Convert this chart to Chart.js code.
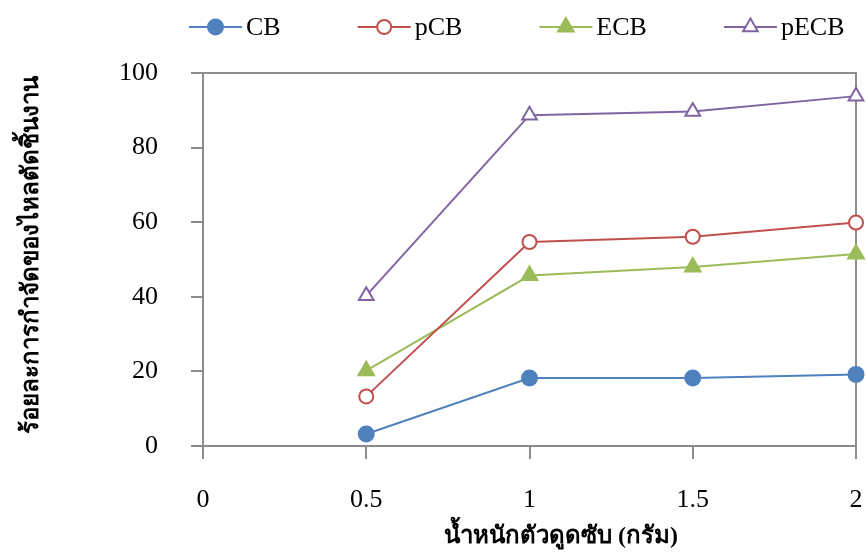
<!DOCTYPE html>
<html><head><meta charset="utf-8">
<script src="https://cdn.jsdelivr.net/npm/chart.js@4.4.1/dist/chart.umd.min.js"></script>
<style>html,body{margin:0;padding:0;background:#fff}#wrap{width:867px;height:556px}</style>
</head><body><div id="wrap"><canvas id="c" width="867" height="556"></canvas></div>
<script>
const xValues = [0.5, 1, 1.5, 2];
const seriesNames = ["CB", "pCB", "ECB", "pECB"];
const cbValues = [3.2, 18.2, 18.2, 19.2];
const pcbValues = [13.3, 54.7, 56.1, 59.9];
const ecbValues = [20.2, 45.7, 48.0, 51.5];
const pecbValues = [40.3, 88.7, 89.7, 93.8];
const xTitle = "น้ำหนักตัวดูดซับ (กรัม)";
const yTitle = "ร้อยละการกำจัดของไหลตัดชิ้นงาน";

const SERIF = "'Liberation Serif','Times New Roman',serif";
const AXIS = "#8c8c8c";
const styles = [
  {color:"#4F81BD", point:"circle", fill:"#4F81BD", r:7.5},
  {color:"#C0504D", point:"circle", fill:"#ffffff", r:7},
  {color:"#9BBB59", point:"triangle", fill:"#9BBB59", r:9},
  {color:"#8064A2", point:"triangle", fill:"#ffffff", r:8.5}
];
const allValues = [cbValues, pcbValues, ecbValues, pecbValues];

const datasets = allValues.map((vals, i) => ({
  label: seriesNames[i],
  data: vals.map((v, k) => ({x: xValues[k], y: v})),
  borderColor: styles[i].color,
  backgroundColor: styles[i].fill,
  pointBackgroundColor: styles[i].fill,
  pointBorderColor: styles[i].color,
  pointStyle: styles[i].point,
  pointRadius: styles[i].r,
  pointBorderWidth: 2,
  borderWidth: 2,
  tension: 0,
  clip: false
}));

const framePlugin = {
  id: 'frame',
  beforeDatasetsDraw(chart) {
    const {ctx, chartArea: a} = chart;
    ctx.save();
    ctx.strokeStyle = AXIS; ctx.lineWidth = 2;
    ctx.beginPath();
    ctx.moveTo(a.left, a.top); ctx.lineTo(a.right, a.top); ctx.lineTo(a.right, a.bottom);
    ctx.stroke();
    ctx.restore();
  }
};

const textPlugin = {
  id: 'texts',
  afterDraw(chart) {
    const ctx = chart.ctx;
    ctx.save();
    ctx.fillStyle = "#000";
    ctx.font = "bold 24px " + SERIF;
    ctx.textAlign = "center"; ctx.textBaseline = "middle";
    ctx.fillText(xTitle, 561, 537);
    ctx.save();
    ctx.translate(32, 255);
    ctx.rotate(-Math.PI / 2);
    ctx.fillText(yTitle, 0, 0);
    ctx.restore();
    // legend
    ctx.font = "26px " + SERIF;
    ctx.textAlign = "left";
    let x = 189; const y = 27;
    chart.data.datasets.forEach((ds) => {
      ctx.strokeStyle = ds.borderColor; ctx.lineWidth = 2;
      ctx.beginPath(); ctx.moveTo(x, y); ctx.lineTo(x + 53, y); ctx.stroke();
      ctx.fillStyle = ds.pointBackgroundColor;
      ctx.strokeStyle = ds.pointBorderColor;
      Chart.helpers.drawPoint(ctx, {pointStyle: ds.pointStyle, radius: ds.pointRadius, borderWidth: 2, rotation: 0}, x + 26.5, y);
      ctx.fillStyle = "#000";
      const tw = ctx.measureText(ds.label).width;
      ctx.fillText(ds.label, x + 57, y + 1);
      x += 57 + tw + 77;
    });
    ctx.restore();
  }
};

new Chart(document.getElementById('c'), {
  type: 'line',
  data: {datasets},
  options: {
    responsive: false,
    animation: false,
    layout: {padding: {top: 73, right: 9, left: 0, bottom: 0}},
    plugins: {legend: {display: false}, tooltip: {enabled: false}},
    scales: {
      x: {
        type: 'linear', min: 0, max: 2,
        ticks: {stepSize: 0.5, color: "#000", font: {family: SERIF, size: 26}, padding: 26,
          callback: v => String(v)},
        grid: {drawOnChartArea: false, drawTicks: true, tickLength: 13, color: AXIS, lineWidth: 2},
        border: {color: AXIS, width: 2},
        afterFit(s) { s.height = 110; s.paddingLeft = 0; s.paddingRight = 0; }
      },
      y: {
        min: 0, max: 100,
        ticks: {stepSize: 20, color: "#000", font: {family: SERIF, size: 26}, padding: 33},
        grid: {drawOnChartArea: false, drawTicks: true, tickLength: 12, color: AXIS, lineWidth: 2},
        border: {color: AXIS, width: 2},
        afterFit(s) { s.width = 203; s.paddingTop = 0; s.paddingBottom = 0; }
      }
    }
  },
  plugins: [framePlugin, textPlugin]
});
</script>
</body></html>
